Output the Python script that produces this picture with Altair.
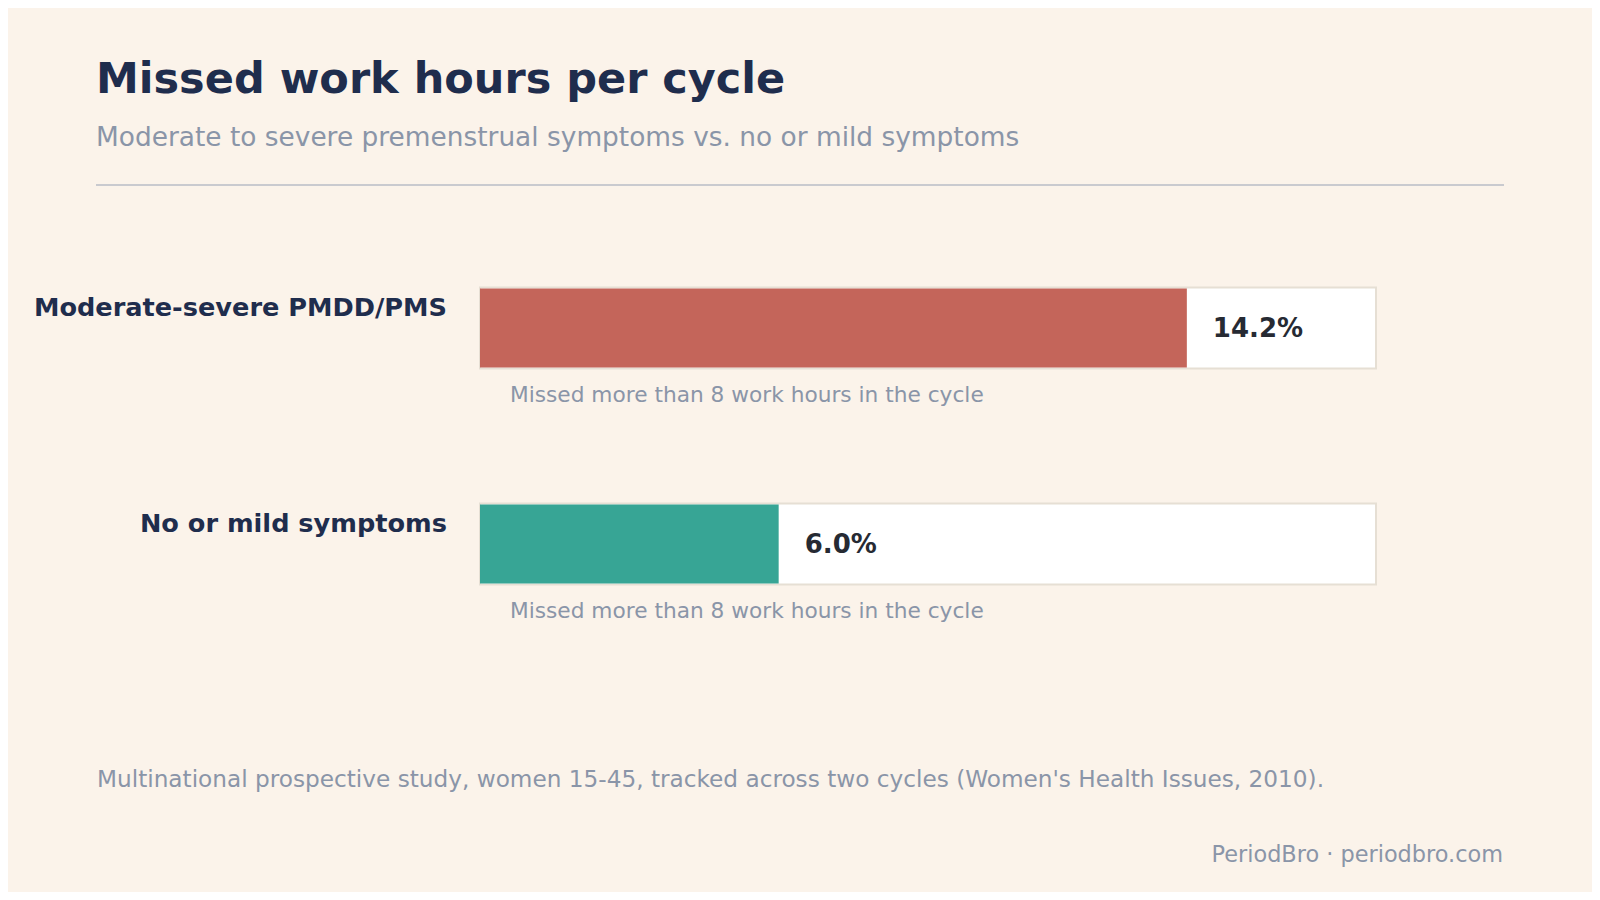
import altair as alt
import pandas as pd

# chart values
groups = ["Moderate-severe PMDD/PMS", "No or mild symptoms"]
shares = [14.2, 6.0]
colors = ["#C4655A", "#37A595"]
notes = ["Missed more than 8 work hours in the cycle",
         "Missed more than 8 work hours in the cycle"]
track_max = 18

title = "Missed work hours per cycle"
subtitle = "Moderate to severe premenstrual symptoms vs. no or mild symptoms"
footnote = ("Multinational prospective study, women 15-45, tracked across two "
            "cycles (Women's Health Issues, 2010).")
credit = "PeriodBro · periodbro.com"

FONT = "DejaVu Sans"
NAVY = "#1F2D4D"
GREY = "#8A95A8"

df = pd.DataFrame({
    "group": groups,
    "share": shares,
    "color": colors,
    "note": notes,
    "zero": [0] * len(groups),
    "track": [track_max] * len(groups),
    "label": [f"{v:.1f}%" for v in shares],
})

x_scale = alt.Scale(domain=[0, track_max], range=[472, 1368])
y_scale = alt.Scale(domain=groups, range=[212, 644], paddingInner=0, paddingOuter=0)

base = alt.Chart(df).encode(
    y=alt.Y("group:N", scale=y_scale, axis=None),
)

track = base.mark_bar(fill="white", stroke="#E6DFD4", strokeWidth=2).encode(
    x=alt.X("zero:Q", scale=x_scale, axis=None),
    x2="track:Q",
    size=alt.value(81),
)

bars = base.mark_bar(strokeWidth=0).encode(
    x=alt.X("zero:Q", scale=x_scale, axis=None),
    x2="share:Q",
    color=alt.Color("color:N", scale=None),
    size=alt.value(79),
)

values = base.mark_text(
    align="left", baseline="alphabetic", dx=26, dy=9,
    font=FONT, fontSize=26, fontWeight="bold", color="#262A33",
).encode(
    x=alt.X("share:Q", scale=x_scale, axis=None),
    text="label:N",
)

names = base.mark_text(
    align="right", baseline="alphabetic", dy=-12,
    font=FONT, fontSize=25.6, fontWeight="bold", color=NAVY,
).encode(
    x=alt.value(439),
    text="group:N",
)

captions = base.mark_text(
    align="left", baseline="alphabetic", dy=74,
    font=FONT, fontSize=21.7, color=GREY,
).encode(
    x=alt.value(502),
    text="note:N",
)

header = alt.Chart(pd.DataFrame({"t": [title]})).mark_text(
    align="left", baseline="alphabetic",
    font=FONT, fontSize=43, fontWeight="bold", color=NAVY,
).encode(x=alt.value(88), y=alt.value(85), text="t:N")

sub = alt.Chart(pd.DataFrame({"t": [subtitle]})).mark_text(
    align="left", baseline="alphabetic",
    font=FONT, fontSize=26.4, color=GREY,
).encode(x=alt.value(88), y=alt.value(138), text="t:N")

divider = alt.Chart(pd.DataFrame({"a": [0]})).mark_rule(
    color="#C9CACF", strokeWidth=2,
).encode(x=alt.value(88), x2=alt.value(1496), y=alt.value(177))

foot = alt.Chart(pd.DataFrame({"t": [footnote]})).mark_text(
    align="left", baseline="alphabetic",
    font=FONT, fontSize=23.2, color=GREY,
).encode(x=alt.value(89), y=alt.value(779), text="t:N")

source = alt.Chart(pd.DataFrame({"t": [credit]})).mark_text(
    align="right", baseline="alphabetic",
    font=FONT, fontSize=22.4, color=GREY,
).encode(x=alt.value(1495), y=alt.value(854), text="t:N")

chart = (
    alt.layer(header, sub, divider, track, bars, values, names, captions, foot, source)
    .properties(
        width=1584,
        height=884,
        background="#FBF3EA",
        padding=0,
        autosize=alt.AutoSizeParams(type="none"),
    )
    .configure_view(stroke=None)
)

chart.save("out.html", embed_options={"renderer": "svg", "actions": False})
